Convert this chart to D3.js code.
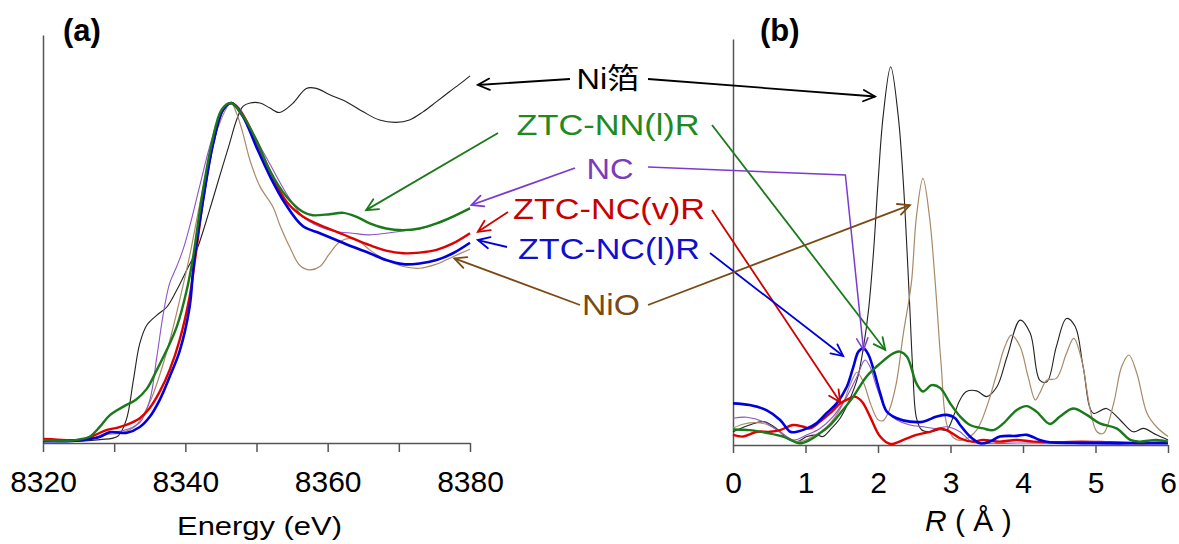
<!DOCTYPE html>
<html><head><meta charset="utf-8">
<script src="https://cdn.jsdelivr.net/npm/d3@7/dist/d3.min.js"></script>
<style>body{margin:0;background:#fff}svg{display:block}</style>
</head><body><svg id="c" width="1179" height="544"></svg>
<script>
// ---------- Panel (a): XANES, energy (eV) vs normalized absorption ----------
const energyTicks = [8320,8330,8340,8350,8360,8370,8380];
const xanesNiFoil = [[8320,0.006],[8324,0.005],[8328,0.01],[8330.5,0.02],[8331.7,0.068],[8332.7,0.185],[8333.6,0.293],[8334.6,0.347],[8336,0.376],[8337.4,0.40],[8338.8,0.45],[8340.2,0.509],[8341.6,0.568],[8343.4,0.685],[8344.8,0.783],[8346.2,0.88],[8347.2,0.95],[8348.1,0.99],[8349.1,1.0],[8350.5,1.0],[8351.9,0.985],[8353.2,0.972],[8355.1,0.999],[8357,1.043],[8358.4,1.043],[8360.3,1.024],[8362.6,1.004],[8365,0.974],[8367.3,0.95],[8369.6,0.943],[8371.5,0.95],[8373.4,0.974],[8375.3,1.004],[8377.1,1.033],[8379,1.063],[8380,1.08]];
const xanesNiO = [[8320,0.008],[8324,0.006],[8327,0.012],[8329,0.025],[8331,0.03],[8333,0.05],[8335,0.12],[8336.4,0.2],[8337.8,0.3],[8339.2,0.42],[8340.6,0.55],[8342,0.7],[8343.4,0.84],[8344.8,0.94],[8346.4,1.0],[8347.2,0.97],[8348.1,0.91],[8349.1,0.83],[8350.5,0.754],[8352.3,0.695],[8353.3,0.64],[8354.7,0.575],[8356.1,0.522],[8357.5,0.509],[8358.9,0.519],[8360.3,0.558],[8361.7,0.592],[8363.1,0.602],[8364.5,0.592],[8365.9,0.568],[8368.2,0.538],[8370.6,0.519],[8372.9,0.514],[8375.3,0.526],[8377.6,0.548],[8380,0.57]];
const xanesNC = [[8320,0.01],[8324,0.008],[8327,0.015],[8329,0.03],[8331,0.035],[8333.6,0.06],[8335,0.126],[8336,0.254],[8336.9,0.38],[8337.8,0.47],[8338.8,0.52],[8339.7,0.57],[8340.6,0.636],[8342,0.754],[8343.4,0.87],[8344.8,0.96],[8346.4,1.0],[8347.6,0.985],[8349,0.93],[8351.9,0.82],[8354.2,0.734],[8356.5,0.666],[8358.9,0.636],[8361.2,0.622],[8363.5,0.617],[8365.9,0.612],[8368.2,0.617],[8370.6,0.624],[8373,0.63],[8375.3,0.645],[8377.6,0.665],[8380,0.692]];
const xanesNCv = [[8320,0.012],[8322,0.01],[8324,0.008],[8326,0.012],[8327.5,0.025],[8328.9,0.038],[8330.5,0.045],[8331.7,0.053],[8333.6,0.073],[8335,0.103],[8336.4,0.151],[8337.8,0.215],[8339.2,0.303],[8340.6,0.43],[8341.5,0.56],[8342.6,0.73],[8344,0.89],[8345.3,0.98],[8346.5,1.0],[8348.1,0.965],[8350,0.885],[8351.9,0.80],[8354.2,0.71],[8356.5,0.666],[8358.9,0.641],[8361.2,0.622],[8363.5,0.602],[8365.9,0.582],[8368.2,0.566],[8370.6,0.558],[8372.9,0.56],[8375.3,0.568],[8377.6,0.587],[8380,0.617]];
const xanesNCl = [[8320,0.005],[8324,0.006],[8326,0.01],[8328,0.018],[8329.4,0.032],[8331.8,0.03],[8333.6,0.047],[8335,0.077],[8336.4,0.127],[8337.8,0.195],[8339.2,0.27],[8340.6,0.40],[8341.2,0.53],[8342.5,0.715],[8343.9,0.88],[8345.3,0.98],[8346.5,1.0],[8348.1,0.96],[8350,0.87],[8352,0.78],[8354,0.705],[8356.5,0.638],[8358.9,0.617],[8361.2,0.597],[8363.5,0.577],[8365.9,0.558],[8368.2,0.538],[8370.6,0.526],[8372.9,0.528],[8375.3,0.538],[8377.6,0.558],[8380,0.589]];
const xanesNNl = [[8320,0.008],[8323,0.006],[8325,0.01],[8326.6,0.019],[8328,0.048],[8329.4,0.082],[8331.3,0.107],[8333.1,0.128],[8334.6,0.16],[8336,0.215],[8337.4,0.274],[8338.8,0.342],[8340.2,0.45],[8341.1,0.548],[8342.3,0.72],[8343.7,0.88],[8345.1,0.98],[8346.4,1.0],[8348,0.965],[8350,0.89],[8351.9,0.80],[8354.2,0.725],[8356.5,0.68],[8357.9,0.67],[8360.3,0.673],[8362.2,0.677],[8364,0.666],[8365.9,0.646],[8368.2,0.631],[8370.6,0.626],[8372.9,0.631],[8375.3,0.646],[8377.6,0.666],[8380,0.69]];

// ---------- Panel (b): FT-EXAFS, R (Å) vs |FT| ----------
const rTicks = [0,1,2,3,4,5,6];
const ftNiFoil = [[0,0.39],[0.23,0.59],[0.42,0.69],[0.6,0.49],[0.74,0.2],[0.88,0.1],[1.02,0.25],[1.15,0.30],[1.24,0.25],[1.34,0.45],[1.48,0.8],[1.6,1.3],[1.72,2.0],[1.8,2.9],[1.87,4.0],[1.94,5.76],[2.0,7.74],[2.07,9.7],[2.175,11.18],[2.28,9.7],[2.35,7.74],[2.40,5.76],[2.44,3.99],[2.48,2.2],[2.53,0.8],[2.6,0.45],[2.72,0.39],[2.85,0.45],[2.95,0.45],[3.05,0.9],[3.13,1.33],[3.22,1.58],[3.36,1.6],[3.5,1.43],[3.64,1.72],[3.78,2.61],[3.96,3.69],[4.10,3.30],[4.23,1.92],[4.33,1.87],[4.46,2.91],[4.60,3.74],[4.72,3.50],[4.83,2.31],[4.97,0.94],[5.15,1.08],[5.34,0.74],[5.52,0.39],[5.66,0.49],[5.84,0.30],[6,0.15]];
const ftNiO = [[0,0.5],[0.15,0.62],[0.33,0.66],[0.5,0.58],[0.7,0.3],[0.9,0.1],[1.1,0.25],[1.3,0.55],[1.5,1.15],[1.62,1.8],[1.71,2.15],[1.8,1.85],[1.9,1.2],[2.0,0.75],[2.07,0.72],[2.15,1.0],[2.25,1.8],[2.35,3.3],[2.46,4.78],[2.53,6.75],[2.62,7.88],[2.71,6.75],[2.79,4.78],[2.87,2.4],[2.95,0.6],[3.05,0.2],[3.18,0.15],[3.36,0.44],[3.5,1.13],[3.64,2.12],[3.75,2.91],[3.84,3.25],[3.96,2.91],[4.07,2.02],[4.17,1.33],[4.23,1.53],[4.33,1.92],[4.46,1.97],[4.6,2.71],[4.70,3.15],[4.81,2.51],[4.92,1.13],[5.02,0.39],[5.11,0.35],[5.25,1.23],[5.36,2.31],[5.46,2.66],[5.57,2.12],[5.71,0.94],[5.84,0.54],[6,0.25]];
const ftNC = [[0,0.79],[0.19,0.82],[0.42,0.69],[0.65,0.39],[0.83,0.15],[1.02,0.30],[1.20,0.49],[1.38,0.84],[1.57,1.43],[1.71,2.02],[1.82,2.51],[1.89,2.31],[1.98,1.72],[2.12,0.99],[2.26,0.74],[2.44,0.59],[2.62,0.54],[2.81,0.49],[2.95,0.54],[3.13,0.39],[3.18,0.30],[3.31,0.08],[3.6,0.05],[4,0.06],[4.5,0.05],[5,0.05],[6,0.04]];
const ftNCv = [[0,0.30],[0.14,0.25],[0.33,0.39],[0.51,0.39],[0.65,0.44],[0.83,0.59],[0.97,0.54],[1.06,0.49],[1.20,0.69],[1.34,0.94],[1.48,1.23],[1.61,1.38],[1.68,1.43],[1.78,1.28],[1.89,0.84],[2.03,0.25],[2.17,0.03],[2.35,0.15],[2.53,0.30],[2.72,0.39],[2.86,0.49],[2.99,0.39],[3.13,0.2],[3.3,0.1],[3.45,0.15],[3.68,0.1],[3.91,0.15],[4.14,0.1],[4.5,0.08],[4.8,0.1],[5.2,0.08],[5.6,0.06],[6,0.08]];
const ftNCl = [[0,1.23],[0.23,1.18],[0.46,1.03],[0.65,0.74],[0.79,0.39],[0.88,0.39],[1.02,0.49],[1.15,0.64],[1.29,0.94],[1.43,1.23],[1.57,1.72],[1.66,2.31],[1.73,2.76],[1.80,2.86],[1.87,2.66],[1.94,2.22],[2.03,1.53],[2.12,0.99],[2.26,0.79],[2.44,0.69],[2.62,0.69],[2.81,0.84],[2.95,0.89],[3.06,0.8],[3.13,0.6],[3.27,0.25],[3.41,0.05],[3.54,0.1],[3.68,0.25],[3.91,0.27],[4.05,0.3],[4.23,0.15],[4.37,0.08],[4.7,0.06],[5,0.05],[5.5,0.05],[6,0.05]];
const ftNNl = [[0,0.46],[0.23,0.44],[0.46,0.36],[0.69,0.25],[0.92,0.05],[1.06,0.15],[1.20,0.35],[1.34,0.59],[1.48,0.94],[1.66,1.43],[1.84,2.02],[2.03,2.41],[2.21,2.71],[2.30,2.76],[2.40,2.61],[2.53,1.82],[2.62,1.58],[2.74,1.77],[2.86,1.68],[2.99,1.25],[3.13,0.85],[3.27,0.59],[3.45,0.49],[3.59,0.44],[3.73,0.64],[3.91,1.03],[4.05,1.15],[4.19,0.98],[4.37,0.62],[4.51,0.84],[4.69,1.08],[4.88,0.89],[5.06,0.64],[5.29,0.49],[5.48,0.15],[5.61,0.1],[5.84,0.15],[6,0.1]];

// ---------- Labels ----------
const seriesNames = ["Ni箔","ZTC-NN(l)R","NC","ZTC-NC(v)R","ZTC-NC(l)R","NiO"];
// arrow tips in data units: [E (eV), XANES value] and [R (Å), FT value]
const tipsA = [[8381.1,1.053],[8365.4,0.685],[8380.2,0.70],[8381.1,0.621],[8381.1,0.597],[8377.8,0.543]];
const tipsB = [[1.96,10.3],[2.10,2.81],[1.80,2.81],[1.48,1.26],[1.52,2.63],[2.44,7.09]];
const ncBend = [1.55,7.98];

const svg = d3.select("#c");
const FONT = "'Liberation Sans', Arial, 'Noto Sans CJK JP', sans-serif";

const xA = d3.scaleLinear().domain([8320,8380]).range([43,470]);
const yA = d3.scaleLinear().domain([0,1.2]).range([443,35]);
const xB = d3.scaleLinear().domain([0,6]).range([733,1168]);
const yB = d3.scaleLinear().domain([0,12]).range([445,39]);

// axes
function styleAxis(g){
  g.selectAll("path.domain").attr("stroke","#555").attr("stroke-width",1.5);
  g.selectAll(".tick line").attr("stroke","#555").attr("stroke-width",1.5);
  g.selectAll(".tick text").attr("fill","#000").style("font-family",FONT).style("font-size","30px");
}
svg.append("g").attr("transform","translate(0,443)")
  .call(d3.axisBottom(xA).tickValues(energyTicks).tickSize(9).tickSizeOuter(0).tickPadding(18.5)
    .tickFormat(d => d % 20 === 0 ? d : "")).call(styleAxis);
svg.append("g").attr("transform","translate(43,0)")
  .call(d3.axisLeft(yA).tickValues([]).tickSizeOuter(0)).call(styleAxis);
svg.append("g").attr("transform","translate(0,445)")
  .call(d3.axisBottom(xB).tickValues(rTicks).tickSize(8).tickSizeOuter(0).tickPadding(18.5)
    .tickFormat(d3.format("d"))).call(styleAxis);
svg.append("g").attr("transform","translate(733,0)")
  .call(d3.axisLeft(yB).tickValues([]).tickSizeOuter(0)).call(styleAxis);

// curves
const lineA = d3.line().x(d=>xA(d[0])).y(d=>yA(d[1])).curve(d3.curveCatmullRom.alpha(0.5));
const lineB = d3.line().x(d=>xB(d[0])).y(d=>yB(d[1])).curve(d3.curveCatmullRom.alpha(0.5));
const curveStyles = [
  {a:xanesNiFoil, b:ftNiFoil, c:"#222222", w:1.1},
  {a:xanesNiO,    b:ftNiO,    c:"#a88a68", w:1.2},
  {a:xanesNC,     b:ftNC,     c:"#8a55c8", w:1.1},
  {a:xanesNCv,    b:ftNCv,    c:"#e00000", w:2.4},
  {a:xanesNCl,    b:ftNCl,    c:"#0000dd", w:2.6},
  {a:xanesNNl,    b:ftNNl,    c:"#1a7a1a", w:2.4}
];
curveStyles.forEach(s=>{
  svg.append("path").attr("d",lineA(s.a)).attr("fill","none").attr("stroke",s.c).attr("stroke-width",s.w).attr("stroke-linejoin","round");
  svg.append("path").attr("d",lineB(s.b)).attr("fill","none").attr("stroke",s.c).attr("stroke-width",s.w).attr("stroke-linejoin","round");
});

// panel labels
svg.append("text").attr("x",63).attr("y",41).text("(a)").style("font-family",FONT).style("font-weight","bold").style("font-size","31px");
svg.append("text").attr("x",760).attr("y",41).text("(b)").style("font-family",FONT).style("font-weight","bold").style("font-size","31px");

// axis titles
svg.append("text").attr("x",177).attr("y",535).text("Energy (eV)")
  .attr("textLength",165).attr("lengthAdjust","spacingAndGlyphs")
  .style("font-family",FONT).style("font-size","25px");
const rt = svg.append("text").attr("x",925).attr("y",531).style("font-family",FONT).style("font-size","30px");
rt.append("tspan").text("R").style("font-style","italic");
rt.append("tspan").text(" ( Å )");

// annotation labels + arrows
const labelInfo = [
  {cx:608, y:89,  w:63,  col:"#000000", acol:"#000000", la:[570,79],  ra:[648,79]},
  {cx:608, y:135, w:183, col:"#208a20", acol:"#1a7a1a", la:[498,133], ra:[712,125]},
  {cx:610, y:179, w:47,  col:"#7a3cb8", acol:"#7a3cd0", la:[575,168], ra:[648,167]},
  {cx:609, y:219, w:192, col:"#c80000", acol:"#d00000", la:[508,212], ra:[712,210]},
  {cx:609, y:259, w:182, col:"#1010cc", acol:"#0000dd", la:[507,247], ra:[710,253]},
  {cx:611, y:315, w:58,  col:"#7b4a14", acol:"#7b4a14", la:[580,305], ra:[648,305]}
];
function arrow(points, col, w){
  svg.append("path").attr("d",d3.line()(points)).attr("fill","none").attr("stroke",col).attr("stroke-width",w);
  const [x1,y1] = points[points.length-2], [x2,y2] = points[points.length-1];
  const ang = Math.atan2(y2-y1,x2-x1), L = 13, spread = 0.45;
  const p1 = [x2 - L*Math.cos(ang-spread), y2 - L*Math.sin(ang-spread)];
  const p2 = [x2 - L*Math.cos(ang+spread), y2 - L*Math.sin(ang+spread)];
  svg.append("path").attr("d",d3.line()([p1,[x2,y2],p2])).attr("fill","none").attr("stroke",col)
    .attr("stroke-width",w).attr("stroke-linejoin","miter").attr("stroke-linecap","round");
}
labelInfo.forEach((L,i)=>{
  const ta = [xA(tipsA[i][0]), yA(tipsA[i][1])];
  const tb = [xB(tipsB[i][0]), yB(tipsB[i][1])];
  const w = i===0 ? 1.8 : 1.8;
  arrow([L.la, ta], L.acol, w);
  if (i===2) arrow([L.ra, [xB(ncBend[0]), yB(ncBend[1])], tb], L.acol, 1.5);
  else arrow([L.ra, tb], L.acol, w);
  svg.append("text").attr("x",L.cx - L.w/2).attr("y",L.y).text(seriesNames[i])
    .attr("textLength",L.w).attr("lengthAdjust","spacingAndGlyphs")
    .attr("fill",L.col).style("font-family",FONT).style("font-size","29px");
});
</script></body></html>
